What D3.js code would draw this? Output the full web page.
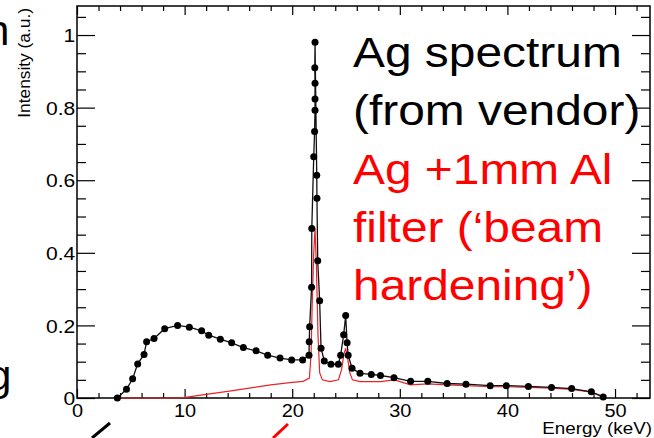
<!DOCTYPE html>
<html>
<head>
<meta charset="utf-8">
<script src="https://cdn.jsdelivr.net/npm/d3@7"></script>
<style>
  body { margin: 0; background: #fff; }
  svg { display: block; }
  text { font-family: "Liberation Sans", Arial, Helvetica, sans-serif; }
</style>
</head>
<body>
<svg id="chart" width="654" height="438"></svg>
<script>
// ---- data ----
const vendorEnergy = [3.75, 4.6, 5.17, 5.64, 6.23, 6.47, 7.16, 8.15, 9.35, 10.44, 11.58, 12.24, 13.32, 14.37, 15.46, 16.64, 17.72, 18.87, 19.95, 20.97,
  21.56, 21.58, 21.62, 21.8, 21.82, 22.0, 22.08, 22.12, 22.12, 22.12, 22.1, 22.12,
  22.28, 22.3, 22.37, 22.55, 22.68, 22.98, 23.6, 24.29, 24.5, 24.78, 24.97, 25.1, 25.2, 25.56, 26.3, 27.35, 28.2, 29.46,
  31.0, 32.6, 34.4, 36.15, 38.4, 39.9, 41.95, 44.1, 45.97, 47.8, 48.9];
const vendorIntensity = [0.0, 0.024, 0.053, 0.094, 0.120, 0.155, 0.164, 0.191, 0.200, 0.195, 0.185, 0.173, 0.162, 0.152, 0.139, 0.130, 0.118, 0.110, 0.105, 0.105,
  0.118, 0.155, 0.196, 0.305, 0.467, 0.665, 0.734, 0.793, 0.824, 0.867, 0.910, 0.980,
  0.614, 0.550, 0.378, 0.268, 0.137, 0.102, 0.093, 0.093, 0.118, 0.174, 0.227, 0.152, 0.118, 0.082, 0.068, 0.065, 0.062, 0.056,
  0.046, 0.046, 0.040, 0.038, 0.034, 0.034, 0.032, 0.029, 0.026, 0.017, 0.003];

const filteredEnergy = [3.75, 9.6, 10.4, 12.0, 14.0, 16.0, 18.0, 20.0, 21.0, 21.6, 21.75, 21.85, 22.0, 22.12, 22.25, 22.4, 22.55, 22.8, 23.5, 24.3, 24.6, 24.8, 24.97, 25.15, 25.35, 25.6, 26.3, 28.2, 29.5, 31.0, 32.6, 34.4, 36.2, 38.4, 40.0, 42.0, 44.1, 46.0, 47.8, 48.9];
const filteredIntensity = [0.0, 0.0, 0.003, 0.010, 0.018, 0.027, 0.036, 0.043, 0.046, 0.055, 0.12, 0.25, 0.40, 0.467, 0.36, 0.17, 0.07, 0.05, 0.045, 0.05, 0.08, 0.12, 0.137, 0.11, 0.07, 0.05, 0.045, 0.045, 0.05, 0.036, 0.039, 0.036, 0.034, 0.031, 0.031, 0.029, 0.027, 0.024, 0.016, 0.003];

const xTickValues = [0, 10, 20, 30, 40, 50];
const xTickLabels = ["0", "10", "20", "30", "40", "50"];
const yTickValues = [0, 0.2, 0.4, 0.6, 0.8, 1];
const yTickLabels = ["0", "0.2", "0.4", "0.6", "0.8", "1"];
const xMinorStep = 2;
const yMinorStep = 0.05;

const xTitle = "Energy (keV)";
const yTitle = "Intensity (a.u.)";
const legendBlack = ["Ag spectrum", "(from vendor)"];
const legendRed = ["Ag +1mm Al", "filter (\u2018beam", "hardening\u2019)"];

// ---- layout ----
const W = 654, H = 438;
const L = 77, R = 650, T = 6, B = 398;
const xMax = 53.25, yMax = 1.08;
const STRETCH = 1.14;

const svg = d3.select("#chart");
const x = d3.scaleLinear().domain([0, xMax]).range([L, R]);
const y = d3.scaleLinear().domain([0, yMax]).range([B, T]);

const xMinor = d3.range(0, xMax + 1e-9, xMinorStep).filter(v => v % 10 !== 0);
const yMinor = d3.range(0, yMax + 1e-9, yMinorStep).map(v => +v.toFixed(2)).filter(v => Math.abs(v / 0.2 - Math.round(v / 0.2)) > 1e-6);

function styleAxis(g) {
  g.select(".domain").remove();
  g.selectAll(".tick line").attr("stroke", "#000").attr("stroke-width", 1.2);
}

// minor ticks
svg.append("g").attr("transform", `translate(0,${B})`)
  .call(d3.axisBottom(x).tickValues(xMinor).tickSize(-5).tickFormat(""))
  .call(styleAxis);
svg.append("g").attr("transform", `translate(0,${T})`)
  .call(d3.axisTop(x).tickValues(xMinor).tickSize(-5).tickFormat(""))
  .call(styleAxis);
svg.append("g").attr("transform", `translate(${L},0)`)
  .call(d3.axisLeft(y).tickValues(yMinor).tickSize(-9).tickFormat(""))
  .call(styleAxis);
svg.append("g").attr("transform", `translate(${R},0)`)
  .call(d3.axisRight(y).tickValues(yMinor).tickSize(-9).tickFormat(""))
  .call(styleAxis);

// major ticks
const xAxis = svg.append("g").attr("transform", `translate(0,${B})`)
  .call(d3.axisBottom(x).tickValues(xTickValues).tickSize(-9).tickPadding(0)
    .tickFormat((d, i) => xTickLabels[i]))
  .call(styleAxis);
xAxis.selectAll(".tick text")
  .attr("y", 19).attr("dy", null)
  .attr("font-size", 17.5).attr("fill", "#000")
  .attr("transform", `scale(${STRETCH},1)`);

svg.append("g").attr("transform", `translate(0,${T})`)
  .call(d3.axisTop(x).tickValues(xTickValues).tickSize(-9).tickFormat(""))
  .call(styleAxis);

const yAxis = svg.append("g").attr("transform", `translate(${L},0)`)
  .call(d3.axisLeft(y).tickValues(yTickValues).tickSize(-18).tickPadding(1.5)
    .tickFormat((d, i) => yTickLabels[i]))
  .call(styleAxis);
yAxis.selectAll(".tick text")
  .attr("font-size", 18.5).attr("fill", "#000").attr("dy", "0.36em")
  .attr("transform", `scale(${STRETCH},1)`);

svg.append("g").attr("transform", `translate(${R},0)`)
  .call(d3.axisRight(y).tickValues(yTickValues).tickSize(-18).tickFormat(""))
  .call(styleAxis);

// frame
svg.append("rect").attr("x", L).attr("y", T).attr("width", R - L).attr("height", B - T)
  .attr("fill", "none").attr("stroke", "#000").attr("stroke-width", 1.5);

// lines
const vendor = vendorEnergy.map((e, i) => [e, vendorIntensity[i]]);
const filtered = filteredEnergy.map((e, i) => [e, filteredIntensity[i]]);
const line = d3.line().x(d => x(d[0])).y(d => y(d[1]));

svg.append("path").datum(filtered).attr("d", line)
  .attr("fill", "none").attr("stroke", "#e8232a").attr("stroke-width", 1.2);
svg.append("path").datum(vendor).attr("d", line)
  .attr("fill", "none").attr("stroke", "#111").attr("stroke-width", 1.3);
svg.append("g").selectAll("circle").data(vendor).join("circle")
  .attr("cx", d => x(d[0])).attr("cy", d => y(d[1])).attr("r", 3.5).attr("fill", "#000");

// axis titles
function stretchText(sel, k) {
  sel.each(function () {
    const w = this.getComputedTextLength();
    d3.select(this).attr("textLength", w * k).attr("lengthAdjust", "spacingAndGlyphs");
  });
}
svg.append("text").attr("x", 652).attr("y", 434).attr("text-anchor", "end")
  .attr("font-size", 16.5).attr("fill", "#000").text(xTitle)
  .attr("transform", `translate(652,0) scale(${STRETCH},1) translate(-652,0)`);
svg.append("text").attr("transform", "translate(30,8) rotate(-90)")
  .attr("text-anchor", "end").attr("font-size", 16.5).attr("fill", "#000").text(yTitle)
  .call(stretchText, 1.05);

// legend text
const legendX = 353, legendY0 = 67, legendDY = 58.3;
legendBlack.concat(legendRed).forEach((t, i) => {
  svg.append("text").attr("x", legendX).attr("y", legendY0 + i * legendDY)
    .attr("font-size", 42).attr("fill", i < legendBlack.length ? "#000" : "#ff0000")
    .text(t).call(stretchText, 1.14);
});

// cut-off slide text and arrows at the edges
svg.append("text").attr("x", -14).attr("y", 45).attr("font-size", 42).attr("fill", "#000").text("n");
svg.append("text").attr("x", -12).attr("y", 390).attr("font-size", 42).attr("fill", "#000").text("g");
svg.append("line").attr("x1", 92).attr("y1", 438).attr("x2", 110).attr("y2", 423)
  .attr("stroke", "#000").attr("stroke-width", 3);
svg.append("line").attr("x1", 273).attr("y1", 438).attr("x2", 288).attr("y2", 424)
  .attr("stroke", "#ff0000").attr("stroke-width", 3);
</script>
</body>
</html>
